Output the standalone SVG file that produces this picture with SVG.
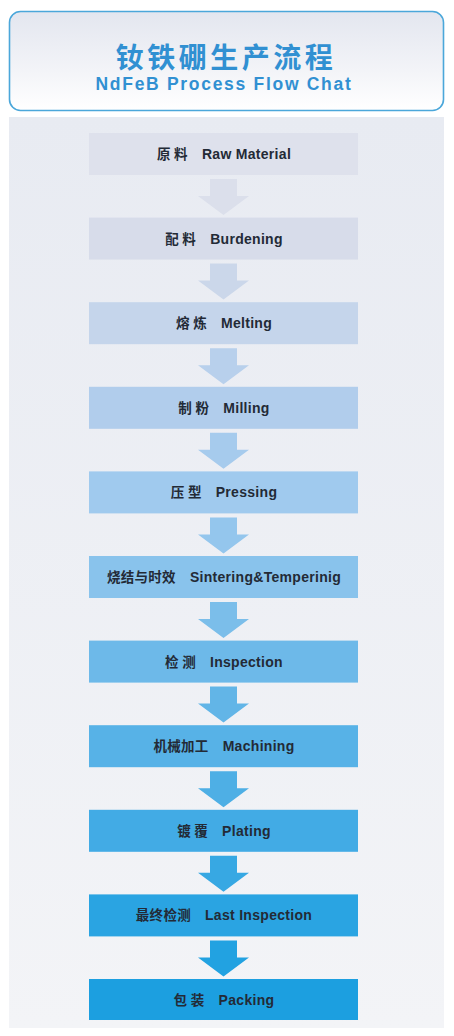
<svg xmlns="http://www.w3.org/2000/svg" width="454" height="1036" viewBox="0 0 454 1036">
<defs>
<linearGradient id="hdr" x1="0" y1="0" x2="0" y2="1">
<stop offset="0" stop-color="#e3e6ef"/>
<stop offset="0.6" stop-color="#f3f4f8"/>
<stop offset="1" stop-color="#ffffff"/>
</linearGradient>
<linearGradient id="panel" x1="0" y1="0" x2="0" y2="1">
<stop offset="0" stop-color="#e8ebf2"/>
<stop offset="1" stop-color="#f3f4f7"/>
</linearGradient>
</defs>
<style>
.lbl{font-family:"Liberation Sans","Noto Sans CJK SC",sans-serif;font-weight:bold;font-size:14px;letter-spacing:0.3px;fill:#232a36;text-anchor:middle}
.cjk{font-family:"Noto Sans CJK SC",sans-serif;font-size:13.5px}
.box{stroke:none}
</style>
<rect width="454" height="1036" fill="#ffffff"/>
<g id="header">
<rect x="9.5" y="11.5" width="434" height="99" rx="11" fill="url(#hdr)" stroke="#4ba7da" stroke-width="1.6"/>
<text x="226" y="68" font-family="Noto Sans CJK SC,sans-serif" font-weight="bold" font-size="28" letter-spacing="3.5" fill="#3190d2" text-anchor="middle">钕铁硼生产流程</text>
<text x="224" y="90" font-family="Liberation Sans,Arial,sans-serif" font-weight="900" font-size="17.5" letter-spacing="1.7" fill="#3190d2" text-anchor="middle">NdFeB Process Flow Chat</text>
</g>
<rect x="9" y="117" width="435" height="911" fill="url(#panel)"/>
<g id="connectors">
<path d="M210,179 H237 V196 H249 L223.5,215 L198,196 H210 Z" fill="#dbdfeb"/>
<path d="M210,263.6 H237 V280.6 H249 L223.5,299.6 L198,280.6 H210 Z" fill="#cbd7ea"/>
<path d="M210,348.2 H237 V365.2 H249 L223.5,384.2 L198,365.2 H210 Z" fill="#b8d0ec"/>
<path d="M210,432.8 H237 V449.8 H249 L223.5,468.8 L198,449.8 H210 Z" fill="#a6cbed"/>
<path d="M210,517.4 H237 V534.4 H249 L223.5,553.4 L198,534.4 H210 Z" fill="#94c6ed"/>
<path d="M210,602 H237 V619 H249 L223.5,638 L198,619 H210 Z" fill="#7bbeea"/>
<path d="M210,686.6 H237 V703.6 H249 L223.5,722.6 L198,703.6 H210 Z" fill="#62b5e7"/>
<path d="M210,771.2 H237 V788.2 H249 L223.5,807.2 L198,788.2 H210 Z" fill="#4eafe5"/>
<path d="M210,855.8 H237 V872.8 H249 L223.5,891.8 L198,872.8 H210 Z" fill="#37a8e3"/>
<path d="M210,940.4 H237 V957.4 H249 L223.5,976.4 L198,957.4 H210 Z" fill="#22a2e1"/>
</g>
<g id="n1"><rect class="box" x="89" y="133" width="269" height="42" fill="#dee1ec" stroke="#d2d6e2" stroke-width="1"/><text class="lbl" x="224" y="159"><tspan class="cjk">原 料</tspan><tspan dx="14">Raw Material</tspan></text></g>
<g id="n2"><rect class="box" x="89" y="217.6" width="269" height="42" fill="#d7dcea" stroke="#cdd3e3" stroke-width="1"/><text class="lbl" x="224" y="243.6"><tspan class="cjk">配 料</tspan><tspan dx="14">Burdening</tspan></text></g>
<g id="n3"><rect class="box" x="89" y="302.2" width="269" height="42" fill="#c5d5eb"/><text class="lbl" x="224" y="328.2"><tspan class="cjk">熔 炼</tspan><tspan dx="14">Melting</tspan></text></g>
<g id="n4"><rect class="box" x="89" y="386.8" width="269" height="42" fill="#b1cdec"/><text class="lbl" x="224" y="412.8"><tspan class="cjk">制 粉</tspan><tspan dx="14">Milling</tspan></text></g>
<g id="n5"><rect class="box" x="89" y="471.4" width="269" height="42" fill="#a0caee"/><text class="lbl" x="224" y="497.4"><tspan class="cjk">压 型</tspan><tspan dx="14">Pressing</tspan></text></g>
<g id="n6"><rect class="box" x="89" y="556" width="269" height="42" fill="#89c3ec"/><text class="lbl" x="224" y="582"><tspan class="cjk">烧结与时效</tspan><tspan dx="14">Sintering&amp;Temperinig</tspan></text></g>
<g id="n7"><rect class="box" x="89" y="640.6" width="269" height="42" fill="#6db9e9"/><text class="lbl" x="224" y="666.6"><tspan class="cjk">检 测</tspan><tspan dx="14">Inspection</tspan></text></g>
<g id="n8"><rect class="box" x="89" y="725.2" width="269" height="42" fill="#57b2e7"/><text class="lbl" x="224" y="751.2"><tspan class="cjk">机械加工</tspan><tspan dx="14">Machining</tspan></text></g>
<g id="n9"><rect class="box" x="89" y="809.8" width="269" height="42" fill="#42abe5"/><text class="lbl" x="224" y="835.8"><tspan class="cjk">镀 覆</tspan><tspan dx="14">Plating</tspan></text></g>
<g id="n10"><rect class="box" x="89" y="894.4" width="269" height="42" fill="#2aa4e2"/><text class="lbl" x="224" y="920.4"><tspan class="cjk">最终检测</tspan><tspan dx="14">Last Inspection</tspan></text></g>
<g id="n11"><rect class="box" x="89" y="979" width="269" height="41" fill="#1c9fe0"/><text class="lbl" x="224" y="1004.5"><tspan class="cjk">包 装</tspan><tspan dx="14">Packing</tspan></text></g>
</svg>
